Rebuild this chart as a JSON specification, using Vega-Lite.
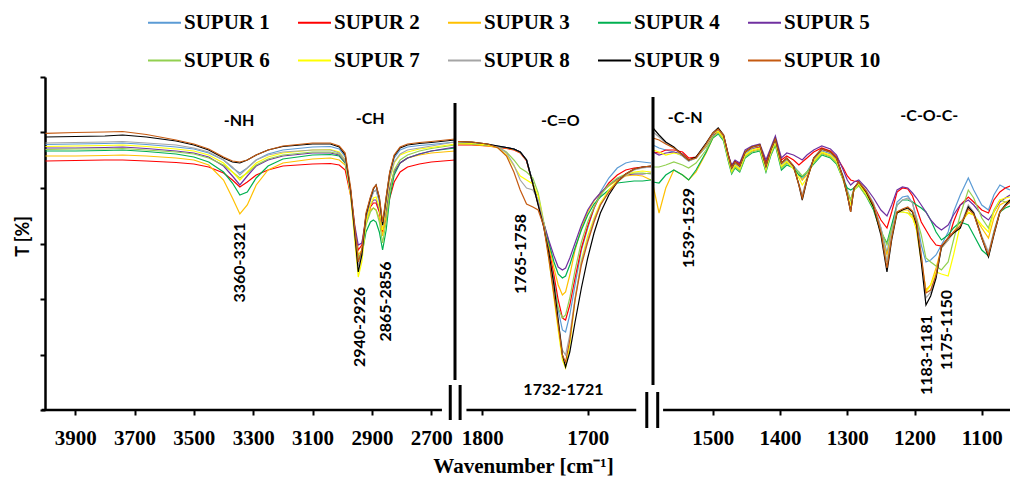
{
"$schema": "https://vega.github.io/schema/vega-lite/v6.json",
"width": 965, "height": 333,
"autosize": {"type": "none"},
"padding": {"left": 45, "top": 77, "right": 0, "bottom": 67},
"background": "white",
"config": {"view": {"stroke": null}},
"datasets": {
"spectra": [
{"w":4000,"p":1,"SUPUR 1":265.5,"SUPUR 2":249,"SUPUR 3":254,"SUPUR 4":259,"SUPUR 5":262,"SUPUR 6":260.5,"SUPUR 7":263.5,"SUPUR 8":267,"SUPUR 9":273,"SUPUR 10":276.7},
{"w":3900,"p":1,"SUPUR 1":266,"SUPUR 2":249.5,"SUPUR 3":254,"SUPUR 4":259,"SUPUR 5":262,"SUPUR 6":261,"SUPUR 7":264,"SUPUR 8":267.5,"SUPUR 9":273.5,"SUPUR 10":277.5},
{"w":3800,"p":1,"SUPUR 1":266.5,"SUPUR 2":250,"SUPUR 3":254.5,"SUPUR 4":259.5,"SUPUR 5":262.5,"SUPUR 6":261,"SUPUR 7":264.5,"SUPUR 8":268,"SUPUR 9":274,"SUPUR 10":278},
{"w":3740,"p":1,"SUPUR 1":267,"SUPUR 2":250,"SUPUR 3":255,"SUPUR 4":260,"SUPUR 5":263,"SUPUR 6":261.5,"SUPUR 7":265,"SUPUR 8":268.5,"SUPUR 9":275,"SUPUR 10":278.5},
{"w":3660,"p":1,"SUPUR 1":265.5,"SUPUR 2":249,"SUPUR 3":254,"SUPUR 4":258.5,"SUPUR 5":261.5,"SUPUR 6":260,"SUPUR 7":263.5,"SUPUR 8":267,"SUPUR 9":273,"SUPUR 10":275.5},
{"w":3560,"p":1,"SUPUR 1":263,"SUPUR 2":247.5,"SUPUR 3":252,"SUPUR 4":256,"SUPUR 5":259,"SUPUR 6":258,"SUPUR 7":261,"SUPUR 8":265,"SUPUR 9":269,"SUPUR 10":270},
{"w":3500,"p":1,"SUPUR 1":261,"SUPUR 2":246,"SUPUR 3":250,"SUPUR 4":253,"SUPUR 5":257,"SUPUR 6":256,"SUPUR 7":259,"SUPUR 8":262,"SUPUR 9":265,"SUPUR 10":266},
{"w":3450,"p":1,"SUPUR 1":257,"SUPUR 2":243,"SUPUR 3":245,"SUPUR 4":248,"SUPUR 5":253,"SUPUR 6":252,"SUPUR 7":255,"SUPUR 8":258,"SUPUR 9":260,"SUPUR 10":261},
{"w":3400,"p":1,"SUPUR 1":250,"SUPUR 2":237,"SUPUR 3":230,"SUPUR 4":238,"SUPUR 5":244,"SUPUR 6":245,"SUPUR 7":247,"SUPUR 8":250,"SUPUR 9":252,"SUPUR 10":253},
{"w":3370,"p":1,"SUPUR 1":242,"SUPUR 2":230,"SUPUR 3":212,"SUPUR 4":227,"SUPUR 5":234,"SUPUR 6":238,"SUPUR 7":238,"SUPUR 8":243,"SUPUR 9":248,"SUPUR 10":249},
{"w":3345,"p":1,"SUPUR 1":237,"SUPUR 2":223,"SUPUR 3":196,"SUPUR 4":215,"SUPUR 5":225,"SUPUR 6":232,"SUPUR 7":230,"SUPUR 8":235,"SUPUR 9":247,"SUPUR 10":248},
{"w":3320,"p":1,"SUPUR 1":242,"SUPUR 2":228,"SUPUR 3":205,"SUPUR 4":218,"SUPUR 5":234,"SUPUR 6":237,"SUPUR 7":238,"SUPUR 8":242,"SUPUR 9":250,"SUPUR 10":250},
{"w":3290,"p":1,"SUPUR 1":250,"SUPUR 2":235,"SUPUR 3":225,"SUPUR 4":232,"SUPUR 5":244,"SUPUR 6":245,"SUPUR 7":247,"SUPUR 8":250,"SUPUR 9":255,"SUPUR 10":255},
{"w":3250,"p":1,"SUPUR 1":256,"SUPUR 2":240,"SUPUR 3":240,"SUPUR 4":244,"SUPUR 5":250,"SUPUR 6":251,"SUPUR 7":253,"SUPUR 8":255,"SUPUR 9":260,"SUPUR 10":260},
{"w":3200,"p":1,"SUPUR 1":260,"SUPUR 2":244,"SUPUR 3":247,"SUPUR 4":251,"SUPUR 5":254,"SUPUR 6":255,"SUPUR 7":257,"SUPUR 8":258,"SUPUR 9":263.5,"SUPUR 10":264},
{"w":3100,"p":1,"SUPUR 1":263,"SUPUR 2":246,"SUPUR 3":251,"SUPUR 4":255,"SUPUR 5":257,"SUPUR 6":258,"SUPUR 7":260,"SUPUR 8":260,"SUPUR 9":266,"SUPUR 10":267},
{"w":3040,"p":1,"SUPUR 1":263.5,"SUPUR 2":246.5,"SUPUR 3":252,"SUPUR 4":255.5,"SUPUR 5":257,"SUPUR 6":258,"SUPUR 7":260.5,"SUPUR 8":260,"SUPUR 9":266,"SUPUR 10":267},
{"w":3010,"p":1,"SUPUR 1":261,"SUPUR 2":245,"SUPUR 3":250,"SUPUR 4":254,"SUPUR 5":255,"SUPUR 6":256,"SUPUR 7":258,"SUPUR 8":257,"SUPUR 9":263,"SUPUR 10":264},
{"w":2990,"p":1,"SUPUR 1":253,"SUPUR 2":240,"SUPUR 3":245,"SUPUR 4":247,"SUPUR 5":248,"SUPUR 6":249,"SUPUR 7":250,"SUPUR 8":250,"SUPUR 9":255,"SUPUR 10":257},
{"w":2972,"p":1,"SUPUR 1":220,"SUPUR 2":215,"SUPUR 3":218,"SUPUR 4":218,"SUPUR 5":220,"SUPUR 6":218,"SUPUR 7":215,"SUPUR 8":218,"SUPUR 9":220,"SUPUR 10":223},
{"w":2958,"p":1,"SUPUR 1":180,"SUPUR 2":182,"SUPUR 3":182,"SUPUR 4":180,"SUPUR 5":185,"SUPUR 6":178,"SUPUR 7":170,"SUPUR 8":177,"SUPUR 9":178,"SUPUR 10":183},
{"w":2946,"p":1,"SUPUR 1":148,"SUPUR 2":160,"SUPUR 3":155,"SUPUR 4":150,"SUPUR 5":165,"SUPUR 6":152,"SUPUR 7":133,"SUPUR 8":144,"SUPUR 9":138,"SUPUR 10":148},
{"w":2934,"p":1,"SUPUR 1":158,"SUPUR 2":165,"SUPUR 3":160,"SUPUR 4":155,"SUPUR 5":167,"SUPUR 6":158,"SUPUR 7":148,"SUPUR 8":155,"SUPUR 9":155,"SUPUR 10":160},
{"w":2920,"p":1,"SUPUR 1":195,"SUPUR 2":190,"SUPUR 3":188,"SUPUR 4":178,"SUPUR 5":192,"SUPUR 6":185,"SUPUR 7":188,"SUPUR 8":192,"SUPUR 9":195,"SUPUR 10":197},
{"w":2905,"p":1,"SUPUR 1":210,"SUPUR 2":203,"SUPUR 3":200,"SUPUR 4":188,"SUPUR 5":205,"SUPUR 6":198,"SUPUR 7":205,"SUPUR 8":210,"SUPUR 9":212,"SUPUR 10":213},
{"w":2895,"p":1,"SUPUR 1":218,"SUPUR 2":207,"SUPUR 3":202,"SUPUR 4":190,"SUPUR 5":210,"SUPUR 6":202,"SUPUR 7":212,"SUPUR 8":218,"SUPUR 9":221,"SUPUR 10":222},
{"w":2886,"p":1,"SUPUR 1":220,"SUPUR 2":207,"SUPUR 3":200,"SUPUR 4":188,"SUPUR 5":210,"SUPUR 6":200,"SUPUR 7":213,"SUPUR 8":220,"SUPUR 9":225,"SUPUR 10":225},
{"w":2875,"p":1,"SUPUR 1":208,"SUPUR 2":198,"SUPUR 3":192,"SUPUR 4":178,"SUPUR 5":200,"SUPUR 6":188,"SUPUR 7":202,"SUPUR 8":210,"SUPUR 9":212,"SUPUR 10":213},
{"w":2864,"p":1,"SUPUR 1":183,"SUPUR 2":178,"SUPUR 3":174,"SUPUR 4":160,"SUPUR 5":182,"SUPUR 6":167,"SUPUR 7":180,"SUPUR 8":184,"SUPUR 9":185,"SUPUR 10":188},
{"w":2852,"p":1,"SUPUR 1":210,"SUPUR 2":192,"SUPUR 3":195,"SUPUR 4":180,"SUPUR 5":200,"SUPUR 6":188,"SUPUR 7":205,"SUPUR 8":208,"SUPUR 9":212,"SUPUR 10":213},
{"w":2840,"p":1,"SUPUR 1":235,"SUPUR 2":212,"SUPUR 3":220,"SUPUR 4":212,"SUPUR 5":222,"SUPUR 6":218,"SUPUR 7":230,"SUPUR 8":232,"SUPUR 9":237,"SUPUR 10":238},
{"w":2825,"p":1,"SUPUR 1":252,"SUPUR 2":228,"SUPUR 3":238,"SUPUR 4":235,"SUPUR 5":238,"SUPUR 6":240,"SUPUR 7":247,"SUPUR 8":248,"SUPUR 9":254,"SUPUR 10":255},
{"w":2805,"p":1,"SUPUR 1":260,"SUPUR 2":238,"SUPUR 3":247,"SUPUR 4":247,"SUPUR 5":247,"SUPUR 6":250,"SUPUR 7":255,"SUPUR 8":256,"SUPUR 9":262,"SUPUR 10":263},
{"w":2780,"p":1,"SUPUR 1":263,"SUPUR 2":243,"SUPUR 3":252,"SUPUR 4":252,"SUPUR 5":252,"SUPUR 6":255,"SUPUR 7":258,"SUPUR 8":260,"SUPUR 9":265,"SUPUR 10":266},
{"w":2740,"p":1,"SUPUR 1":264.5,"SUPUR 2":246,"SUPUR 3":255,"SUPUR 4":256,"SUPUR 5":256,"SUPUR 6":259,"SUPUR 7":261,"SUPUR 8":262,"SUPUR 9":266.5,"SUPUR 10":267.5},
{"w":2700,"p":1,"SUPUR 1":265.5,"SUPUR 2":248,"SUPUR 3":257,"SUPUR 4":259,"SUPUR 5":259,"SUPUR 6":261.5,"SUPUR 7":262.5,"SUPUR 8":264,"SUPUR 9":267.5,"SUPUR 10":268.5},
{"w":2620,"p":1,"SUPUR 1":268,"SUPUR 2":250,"SUPUR 3":259,"SUPUR 4":262,"SUPUR 5":263,"SUPUR 6":265,"SUPUR 7":266,"SUPUR 8":268,"SUPUR 9":270,"SUPUR 10":271},
{"w":1823,"p":2,"SUPUR 1":267.5,"SUPUR 2":265,"SUPUR 3":266,"SUPUR 4":267,"SUPUR 5":267,"SUPUR 6":266.5,"SUPUR 7":267,"SUPUR 8":268,"SUPUR 9":268.5,"SUPUR 10":268.5},
{"w":1810,"p":2,"SUPUR 1":267,"SUPUR 2":265,"SUPUR 3":265.5,"SUPUR 4":266.5,"SUPUR 5":266.5,"SUPUR 6":266,"SUPUR 7":266.5,"SUPUR 8":267.5,"SUPUR 9":268,"SUPUR 10":268},
{"w":1795,"p":2,"SUPUR 1":265.5,"SUPUR 2":264,"SUPUR 3":264,"SUPUR 4":265,"SUPUR 5":265,"SUPUR 6":265,"SUPUR 7":265,"SUPUR 8":266,"SUPUR 9":266,"SUPUR 10":266},
{"w":1785,"p":2,"SUPUR 1":264,"SUPUR 2":262.5,"SUPUR 3":263,"SUPUR 4":263.5,"SUPUR 5":263.5,"SUPUR 6":263,"SUPUR 7":262,"SUPUR 8":263,"SUPUR 9":264,"SUPUR 10":262},
{"w":1777,"p":2,"SUPUR 1":262.5,"SUPUR 2":261.5,"SUPUR 3":262,"SUPUR 4":262.5,"SUPUR 5":262.5,"SUPUR 6":258,"SUPUR 7":255,"SUPUR 8":257,"SUPUR 9":262.5,"SUPUR 10":254},
{"w":1770,"p":2,"SUPUR 1":261,"SUPUR 2":260,"SUPUR 3":260.5,"SUPUR 4":261,"SUPUR 5":261,"SUPUR 6":250,"SUPUR 7":244,"SUPUR 8":245,"SUPUR 9":261,"SUPUR 10":238},
{"w":1764,"p":2,"SUPUR 1":258,"SUPUR 2":257,"SUPUR 3":257.5,"SUPUR 4":258,"SUPUR 5":258,"SUPUR 6":242,"SUPUR 7":234,"SUPUR 8":230,"SUPUR 9":258,"SUPUR 10":220},
{"w":1758,"p":2,"SUPUR 1":250,"SUPUR 2":249,"SUPUR 3":250,"SUPUR 4":250,"SUPUR 5":250,"SUPUR 6":238,"SUPUR 7":230,"SUPUR 8":222,"SUPUR 9":250,"SUPUR 10":206},
{"w":1752,"p":2,"SUPUR 1":226,"SUPUR 2":226,"SUPUR 3":226,"SUPUR 4":227,"SUPUR 5":227,"SUPUR 6":232,"SUPUR 7":226,"SUPUR 8":220,"SUPUR 9":226,"SUPUR 10":203},
{"w":1747,"p":2,"SUPUR 1":206,"SUPUR 2":206,"SUPUR 3":206,"SUPUR 4":207,"SUPUR 5":207,"SUPUR 6":217,"SUPUR 7":214,"SUPUR 8":210,"SUPUR 9":205,"SUPUR 10":200},
{"w":1742,"p":2,"SUPUR 1":186,"SUPUR 2":186,"SUPUR 3":187,"SUPUR 4":188,"SUPUR 5":188,"SUPUR 6":190,"SUPUR 7":188,"SUPUR 8":188,"SUPUR 9":184,"SUPUR 10":185},
{"w":1737,"p":2,"SUPUR 1":160,"SUPUR 2":162,"SUPUR 3":166,"SUPUR 4":168,"SUPUR 5":170,"SUPUR 6":158,"SUPUR 7":152,"SUPUR 8":155,"SUPUR 9":158,"SUPUR 10":152},
{"w":1732,"p":2,"SUPUR 1":130,"SUPUR 2":135,"SUPUR 3":142,"SUPUR 4":148,"SUPUR 5":154,"SUPUR 6":125,"SUPUR 7":112,"SUPUR 8":118,"SUPUR 9":125,"SUPUR 10":115},
{"w":1728,"p":2,"SUPUR 1":100,"SUPUR 2":110,"SUPUR 3":125,"SUPUR 4":136,"SUPUR 5":143,"SUPUR 6":102,"SUPUR 7":80,"SUPUR 8":88,"SUPUR 9":90,"SUPUR 10":85},
{"w":1724,"p":2,"SUPUR 1":80,"SUPUR 2":92,"SUPUR 3":115,"SUPUR 4":132,"SUPUR 5":140,"SUPUR 6":92,"SUPUR 7":50,"SUPUR 8":60,"SUPUR 9":55,"SUPUR 10":55},
{"w":1721,"p":2,"SUPUR 1":78,"SUPUR 2":90,"SUPUR 3":118,"SUPUR 4":134,"SUPUR 5":142,"SUPUR 6":95,"SUPUR 7":42,"SUPUR 8":55,"SUPUR 9":43,"SUPUR 10":48},
{"w":1717,"p":2,"SUPUR 1":95,"SUPUR 2":105,"SUPUR 3":135,"SUPUR 4":145,"SUPUR 5":152,"SUPUR 6":112,"SUPUR 7":65,"SUPUR 8":75,"SUPUR 9":58,"SUPUR 10":70},
{"w":1712,"p":2,"SUPUR 1":125,"SUPUR 2":132,"SUPUR 3":160,"SUPUR 4":162,"SUPUR 5":167,"SUPUR 6":140,"SUPUR 7":110,"SUPUR 8":112,"SUPUR 9":88,"SUPUR 10":110},
{"w":1706,"p":2,"SUPUR 1":160,"SUPUR 2":162,"SUPUR 3":182,"SUPUR 4":180,"SUPUR 5":185,"SUPUR 6":168,"SUPUR 7":150,"SUPUR 8":148,"SUPUR 9":122,"SUPUR 10":145},
{"w":1700,"p":2,"SUPUR 1":182,"SUPUR 2":184,"SUPUR 3":198,"SUPUR 4":195,"SUPUR 5":200,"SUPUR 6":188,"SUPUR 7":174,"SUPUR 8":170,"SUPUR 9":152,"SUPUR 10":168},
{"w":1694,"p":2,"SUPUR 1":202,"SUPUR 2":202,"SUPUR 3":209,"SUPUR 4":206,"SUPUR 5":210,"SUPUR 6":203,"SUPUR 7":192,"SUPUR 8":190,"SUPUR 9":177,"SUPUR 10":188},
{"w":1688,"p":2,"SUPUR 1":218,"SUPUR 2":215,"SUPUR 3":217,"SUPUR 4":213,"SUPUR 5":217,"SUPUR 6":215,"SUPUR 7":207,"SUPUR 8":205,"SUPUR 9":197,"SUPUR 10":205},
{"w":1680,"p":2,"SUPUR 1":232,"SUPUR 2":227,"SUPUR 3":224,"SUPUR 4":220,"SUPUR 5":225,"SUPUR 6":225,"SUPUR 7":220,"SUPUR 8":218,"SUPUR 9":215,"SUPUR 10":218},
{"w":1672,"p":2,"SUPUR 1":242,"SUPUR 2":235,"SUPUR 3":230,"SUPUR 4":227,"SUPUR 5":231,"SUPUR 6":232,"SUPUR 7":229,"SUPUR 8":228,"SUPUR 9":228,"SUPUR 10":228},
{"w":1664,"p":2,"SUPUR 1":247,"SUPUR 2":240,"SUPUR 3":234,"SUPUR 4":228,"SUPUR 5":235,"SUPUR 6":236,"SUPUR 7":235,"SUPUR 8":235,"SUPUR 9":236,"SUPUR 10":236},
{"w":1656,"p":2,"SUPUR 1":249,"SUPUR 2":242,"SUPUR 3":235,"SUPUR 4":229,"SUPUR 5":236,"SUPUR 6":237,"SUPUR 7":238,"SUPUR 8":240,"SUPUR 9":241,"SUPUR 10":241},
{"w":1648,"p":2,"SUPUR 1":248,"SUPUR 2":243,"SUPUR 3":234,"SUPUR 4":229,"SUPUR 5":236,"SUPUR 6":237,"SUPUR 7":239,"SUPUR 8":242,"SUPUR 9":243,"SUPUR 10":243},
{"w":1640,"p":2,"SUPUR 1":247,"SUPUR 2":243,"SUPUR 3":230,"SUPUR 4":230,"SUPUR 5":237,"SUPUR 6":236,"SUPUR 7":238,"SUPUR 8":243,"SUPUR 9":244,"SUPUR 10":244},
{"w":1589,"p":3,"SUPUR 1":265,"SUPUR 2":258,"SUPUR 3":225,"SUPUR 4":228,"SUPUR 5":258,"SUPUR 6":243,"SUPUR 7":260,"SUPUR 8":278,"SUPUR 9":282,"SUPUR 10":272},
{"w":1580,"p":3,"SUPUR 1":262,"SUPUR 2":257,"SUPUR 3":197,"SUPUR 4":227,"SUPUR 5":255,"SUPUR 6":243,"SUPUR 7":258,"SUPUR 8":273,"SUPUR 9":275,"SUPUR 10":270},
{"w":1570,"p":3,"SUPUR 1":260,"SUPUR 2":260,"SUPUR 3":222,"SUPUR 4":235,"SUPUR 5":257,"SUPUR 6":245,"SUPUR 7":255,"SUPUR 8":267,"SUPUR 9":268,"SUPUR 10":266},
{"w":1558,"p":3,"SUPUR 1":258,"SUPUR 2":260,"SUPUR 3":240,"SUPUR 4":240,"SUPUR 5":258,"SUPUR 6":248,"SUPUR 7":257,"SUPUR 8":262,"SUPUR 9":263,"SUPUR 10":262},
{"w":1545,"p":3,"SUPUR 1":254,"SUPUR 2":258,"SUPUR 3":235,"SUPUR 4":235,"SUPUR 5":256,"SUPUR 6":245,"SUPUR 7":255,"SUPUR 8":254,"SUPUR 9":255,"SUPUR 10":255},
{"w":1536,"p":3,"SUPUR 1":249,"SUPUR 2":252,"SUPUR 3":230,"SUPUR 4":230,"SUPUR 5":250,"SUPUR 6":242,"SUPUR 7":250,"SUPUR 8":249,"SUPUR 9":250,"SUPUR 10":250},
{"w":1525,"p":3,"SUPUR 1":252,"SUPUR 2":253,"SUPUR 3":238,"SUPUR 4":240,"SUPUR 5":252,"SUPUR 6":247,"SUPUR 7":252,"SUPUR 8":252,"SUPUR 9":253,"SUPUR 10":252},
{"w":1510,"p":3,"SUPUR 1":263,"SUPUR 2":264,"SUPUR 3":257,"SUPUR 4":258,"SUPUR 5":264,"SUPUR 6":260,"SUPUR 7":264,"SUPUR 8":265,"SUPUR 9":267,"SUPUR 10":266},
{"w":1500,"p":3,"SUPUR 1":274,"SUPUR 2":275,"SUPUR 3":272,"SUPUR 4":272,"SUPUR 5":275,"SUPUR 6":273,"SUPUR 7":276,"SUPUR 8":276,"SUPUR 9":277,"SUPUR 10":277},
{"w":1492,"p":3,"SUPUR 1":280,"SUPUR 2":279,"SUPUR 3":278,"SUPUR 4":276,"SUPUR 5":280,"SUPUR 6":277,"SUPUR 7":279,"SUPUR 8":281,"SUPUR 9":282,"SUPUR 10":281},
{"w":1484,"p":3,"SUPUR 1":273,"SUPUR 2":272,"SUPUR 3":271,"SUPUR 4":269,"SUPUR 5":274,"SUPUR 6":270,"SUPUR 7":272,"SUPUR 8":274,"SUPUR 9":275,"SUPUR 10":275},
{"w":1477,"p":3,"SUPUR 1":253,"SUPUR 2":254,"SUPUR 3":251,"SUPUR 4":249,"SUPUR 5":255,"SUPUR 6":250,"SUPUR 7":252,"SUPUR 8":254,"SUPUR 9":255,"SUPUR 10":255},
{"w":1472,"p":3,"SUPUR 1":240,"SUPUR 2":244,"SUPUR 3":238,"SUPUR 4":236,"SUPUR 5":245,"SUPUR 6":237,"SUPUR 7":239,"SUPUR 8":241,"SUPUR 9":242,"SUPUR 10":242},
{"w":1467,"p":3,"SUPUR 1":246,"SUPUR 2":249,"SUPUR 3":244,"SUPUR 4":242,"SUPUR 5":250,"SUPUR 6":243,"SUPUR 7":245,"SUPUR 8":247,"SUPUR 9":248,"SUPUR 10":248},
{"w":1460,"p":3,"SUPUR 1":242,"SUPUR 2":246,"SUPUR 3":240,"SUPUR 4":238,"SUPUR 5":247,"SUPUR 6":239,"SUPUR 7":241,"SUPUR 8":243,"SUPUR 9":244,"SUPUR 10":244},
{"w":1452,"p":3,"SUPUR 1":256,"SUPUR 2":258,"SUPUR 3":254,"SUPUR 4":252,"SUPUR 5":260,"SUPUR 6":253,"SUPUR 7":255,"SUPUR 8":257,"SUPUR 9":258,"SUPUR 10":258},
{"w":1442,"p":3,"SUPUR 1":261,"SUPUR 2":262,"SUPUR 3":259,"SUPUR 4":257,"SUPUR 5":264,"SUPUR 6":258,"SUPUR 7":260,"SUPUR 8":262,"SUPUR 9":263,"SUPUR 10":263},
{"w":1430,"p":3,"SUPUR 1":263,"SUPUR 2":263,"SUPUR 3":261,"SUPUR 4":259,"SUPUR 5":266,"SUPUR 6":260,"SUPUR 7":262,"SUPUR 8":264,"SUPUR 9":265,"SUPUR 10":265},
{"w":1421,"p":3,"SUPUR 1":242,"SUPUR 2":248,"SUPUR 3":240,"SUPUR 4":238,"SUPUR 5":250,"SUPUR 6":239,"SUPUR 7":241,"SUPUR 8":243,"SUPUR 9":244,"SUPUR 10":244},
{"w":1414,"p":3,"SUPUR 1":258,"SUPUR 2":260,"SUPUR 3":256,"SUPUR 4":254,"SUPUR 5":262,"SUPUR 6":255,"SUPUR 7":257,"SUPUR 8":259,"SUPUR 9":260,"SUPUR 10":260},
{"w":1407,"p":3,"SUPUR 1":269,"SUPUR 2":270,"SUPUR 3":267,"SUPUR 4":265,"SUPUR 5":274,"SUPUR 6":266,"SUPUR 7":268,"SUPUR 8":270,"SUPUR 9":271,"SUPUR 10":271},
{"w":1398,"p":3,"SUPUR 1":245,"SUPUR 2":250,"SUPUR 3":243,"SUPUR 4":240,"SUPUR 5":252,"SUPUR 6":242,"SUPUR 7":244,"SUPUR 8":246,"SUPUR 9":247,"SUPUR 10":247},
{"w":1390,"p":3,"SUPUR 1":250,"SUPUR 2":254,"SUPUR 3":248,"SUPUR 4":245,"SUPUR 5":257,"SUPUR 6":247,"SUPUR 7":249,"SUPUR 8":251,"SUPUR 9":252,"SUPUR 10":252},
{"w":1380,"p":3,"SUPUR 1":244,"SUPUR 2":250,"SUPUR 3":242,"SUPUR 4":242,"SUPUR 5":255,"SUPUR 6":242,"SUPUR 7":241,"SUPUR 8":243,"SUPUR 9":244,"SUPUR 10":244},
{"w":1372,"p":3,"SUPUR 1":238,"SUPUR 2":245,"SUPUR 3":235,"SUPUR 4":235,"SUPUR 5":252,"SUPUR 6":238,"SUPUR 7":232,"SUPUR 8":226,"SUPUR 9":225,"SUPUR 10":225},
{"w":1367,"p":3,"SUPUR 1":230,"SUPUR 2":248,"SUPUR 3":230,"SUPUR 4":233,"SUPUR 5":250,"SUPUR 6":234,"SUPUR 7":225,"SUPUR 8":215,"SUPUR 9":210,"SUPUR 10":212},
{"w":1360,"p":3,"SUPUR 1":238,"SUPUR 2":252,"SUPUR 3":235,"SUPUR 4":238,"SUPUR 5":255,"SUPUR 6":238,"SUPUR 7":232,"SUPUR 8":232,"SUPUR 9":230,"SUPUR 10":230},
{"w":1350,"p":3,"SUPUR 1":250,"SUPUR 2":258,"SUPUR 3":248,"SUPUR 4":246,"SUPUR 5":260,"SUPUR 6":247,"SUPUR 7":249,"SUPUR 8":251,"SUPUR 9":252,"SUPUR 10":252},
{"w":1338,"p":3,"SUPUR 1":259,"SUPUR 2":262,"SUPUR 3":257,"SUPUR 4":255,"SUPUR 5":264,"SUPUR 6":256,"SUPUR 7":258,"SUPUR 8":260,"SUPUR 9":261,"SUPUR 10":261},
{"w":1325,"p":3,"SUPUR 1":256,"SUPUR 2":259,"SUPUR 3":254,"SUPUR 4":252,"SUPUR 5":261,"SUPUR 6":253,"SUPUR 7":255,"SUPUR 8":257,"SUPUR 9":258,"SUPUR 10":258},
{"w":1316,"p":3,"SUPUR 1":250,"SUPUR 2":253,"SUPUR 3":248,"SUPUR 4":246,"SUPUR 5":255,"SUPUR 6":247,"SUPUR 7":249,"SUPUR 8":251,"SUPUR 9":252,"SUPUR 10":252},
{"w":1306,"p":3,"SUPUR 1":234,"SUPUR 2":242,"SUPUR 3":232,"SUPUR 4":230,"SUPUR 5":240,"SUPUR 6":230,"SUPUR 7":230,"SUPUR 8":231,"SUPUR 9":232,"SUPUR 10":232},
{"w":1300,"p":3,"SUPUR 1":220,"SUPUR 2":234,"SUPUR 3":218,"SUPUR 4":222,"SUPUR 5":230,"SUPUR 6":217,"SUPUR 7":215,"SUPUR 8":214,"SUPUR 9":215,"SUPUR 10":215},
{"w":1295,"p":3,"SUPUR 1":210,"SUPUR 2":230,"SUPUR 3":210,"SUPUR 4":220,"SUPUR 5":225,"SUPUR 6":210,"SUPUR 7":205,"SUPUR 8":200,"SUPUR 9":198,"SUPUR 10":198},
{"w":1290,"p":3,"SUPUR 1":222,"SUPUR 2":229,"SUPUR 3":221,"SUPUR 4":222,"SUPUR 5":228,"SUPUR 6":220,"SUPUR 7":220,"SUPUR 8":221,"SUPUR 9":222,"SUPUR 10":222},
{"w":1283,"p":3,"SUPUR 1":227,"SUPUR 2":228,"SUPUR 3":226,"SUPUR 4":225,"SUPUR 5":230,"SUPUR 6":224,"SUPUR 7":226,"SUPUR 8":228,"SUPUR 9":228,"SUPUR 10":228},
{"w":1272,"p":3,"SUPUR 1":218,"SUPUR 2":218,"SUPUR 3":217,"SUPUR 4":214,"SUPUR 5":222,"SUPUR 6":214,"SUPUR 7":216,"SUPUR 8":220,"SUPUR 9":218,"SUPUR 10":219},
{"w":1261,"p":3,"SUPUR 1":205,"SUPUR 2":205,"SUPUR 3":204,"SUPUR 4":200,"SUPUR 5":212,"SUPUR 6":202,"SUPUR 7":203,"SUPUR 8":207,"SUPUR 9":203,"SUPUR 10":205},
{"w":1250,"p":3,"SUPUR 1":182,"SUPUR 2":190,"SUPUR 3":178,"SUPUR 4":178,"SUPUR 5":200,"SUPUR 6":180,"SUPUR 7":177,"SUPUR 8":182,"SUPUR 9":175,"SUPUR 10":178},
{"w":1241,"p":3,"SUPUR 1":157,"SUPUR 2":182,"SUPUR 3":155,"SUPUR 4":167,"SUPUR 5":194,"SUPUR 6":165,"SUPUR 7":148,"SUPUR 8":148,"SUPUR 9":138,"SUPUR 10":142},
{"w":1234,"p":3,"SUPUR 1":182,"SUPUR 2":198,"SUPUR 3":178,"SUPUR 4":185,"SUPUR 5":205,"SUPUR 6":182,"SUPUR 7":175,"SUPUR 8":177,"SUPUR 9":170,"SUPUR 10":172},
{"w":1226,"p":3,"SUPUR 1":208,"SUPUR 2":218,"SUPUR 3":198,"SUPUR 4":205,"SUPUR 5":220,"SUPUR 6":198,"SUPUR 7":198,"SUPUR 8":205,"SUPUR 9":197,"SUPUR 10":198},
{"w":1218,"p":3,"SUPUR 1":213,"SUPUR 2":222,"SUPUR 3":200,"SUPUR 4":210,"SUPUR 5":223,"SUPUR 6":198,"SUPUR 7":198,"SUPUR 8":210,"SUPUR 9":200,"SUPUR 10":201},
{"w":1210,"p":3,"SUPUR 1":214,"SUPUR 2":221,"SUPUR 3":200,"SUPUR 4":210,"SUPUR 5":222,"SUPUR 6":197,"SUPUR 7":197,"SUPUR 8":212,"SUPUR 9":202,"SUPUR 10":203},
{"w":1203,"p":3,"SUPUR 1":207,"SUPUR 2":214,"SUPUR 3":194,"SUPUR 4":208,"SUPUR 5":217,"SUPUR 6":195,"SUPUR 7":192,"SUPUR 8":207,"SUPUR 9":198,"SUPUR 10":199},
{"w":1197,"p":3,"SUPUR 1":192,"SUPUR 2":202,"SUPUR 3":180,"SUPUR 4":205,"SUPUR 5":212,"SUPUR 6":192,"SUPUR 7":182,"SUPUR 8":190,"SUPUR 9":185,"SUPUR 10":188},
{"w":1190,"p":3,"SUPUR 1":165,"SUPUR 2":188,"SUPUR 3":148,"SUPUR 4":202,"SUPUR 5":205,"SUPUR 6":175,"SUPUR 7":152,"SUPUR 8":155,"SUPUR 9":148,"SUPUR 10":155},
{"w":1183,"p":3,"SUPUR 1":148,"SUPUR 2":180,"SUPUR 3":120,"SUPUR 4":198,"SUPUR 5":198,"SUPUR 6":152,"SUPUR 7":118,"SUPUR 8":112,"SUPUR 9":105,"SUPUR 10":117},
{"w":1176,"p":3,"SUPUR 1":150,"SUPUR 2":172,"SUPUR 3":125,"SUPUR 4":190,"SUPUR 5":190,"SUPUR 6":148,"SUPUR 7":125,"SUPUR 8":118,"SUPUR 9":114,"SUPUR 10":120},
{"w":1168,"p":3,"SUPUR 1":155,"SUPUR 2":165,"SUPUR 3":142,"SUPUR 4":178,"SUPUR 5":184,"SUPUR 6":144,"SUPUR 7":138,"SUPUR 8":134,"SUPUR 9":132,"SUPUR 10":135},
{"w":1160,"p":3,"SUPUR 1":165,"SUPUR 2":164,"SUPUR 3":162,"SUPUR 4":170,"SUPUR 5":180,"SUPUR 6":140,"SUPUR 7":136,"SUPUR 8":162,"SUPUR 9":163,"SUPUR 10":164},
{"w":1150,"p":3,"SUPUR 1":178,"SUPUR 2":170,"SUPUR 3":170,"SUPUR 4":175,"SUPUR 5":185,"SUPUR 6":148,"SUPUR 7":134,"SUPUR 8":170,"SUPUR 9":172,"SUPUR 10":172},
{"w":1142,"p":3,"SUPUR 1":198,"SUPUR 2":188,"SUPUR 3":178,"SUPUR 4":182,"SUPUR 5":195,"SUPUR 6":170,"SUPUR 7":155,"SUPUR 8":177,"SUPUR 9":177,"SUPUR 10":178},
{"w":1132,"p":3,"SUPUR 1":215,"SUPUR 2":205,"SUPUR 3":188,"SUPUR 4":188,"SUPUR 5":205,"SUPUR 6":195,"SUPUR 7":185,"SUPUR 8":184,"SUPUR 9":182,"SUPUR 10":184},
{"w":1120,"p":3,"SUPUR 1":232,"SUPUR 2":213,"SUPUR 3":197,"SUPUR 4":185,"SUPUR 5":210,"SUPUR 6":220,"SUPUR 7":198,"SUPUR 8":205,"SUPUR 9":203,"SUPUR 10":201},
{"w":1112,"p":3,"SUPUR 1":220,"SUPUR 2":208,"SUPUR 3":195,"SUPUR 4":175,"SUPUR 5":205,"SUPUR 6":212,"SUPUR 7":195,"SUPUR 8":198,"SUPUR 9":197,"SUPUR 10":196},
{"w":1100,"p":3,"SUPUR 1":205,"SUPUR 2":200,"SUPUR 3":182,"SUPUR 4":160,"SUPUR 5":195,"SUPUR 6":192,"SUPUR 7":185,"SUPUR 8":174,"SUPUR 9":172,"SUPUR 10":172},
{"w":1090,"p":3,"SUPUR 1":200,"SUPUR 2":197,"SUPUR 3":172,"SUPUR 4":154,"SUPUR 5":190,"SUPUR 6":182,"SUPUR 7":178,"SUPUR 8":158,"SUPUR 9":153,"SUPUR 10":155},
{"w":1082,"p":3,"SUPUR 1":215,"SUPUR 2":210,"SUPUR 3":192,"SUPUR 4":178,"SUPUR 5":198,"SUPUR 6":200,"SUPUR 7":198,"SUPUR 8":178,"SUPUR 9":175,"SUPUR 10":176},
{"w":1073,"p":3,"SUPUR 1":225,"SUPUR 2":218,"SUPUR 3":205,"SUPUR 4":198,"SUPUR 5":208,"SUPUR 6":210,"SUPUR 7":210,"SUPUR 8":199,"SUPUR 9":198,"SUPUR 10":198},
{"w":1065,"p":3,"SUPUR 1":222,"SUPUR 2":222,"SUPUR 3":208,"SUPUR 4":202,"SUPUR 5":212,"SUPUR 6":208,"SUPUR 7":212,"SUPUR 8":204,"SUPUR 9":205,"SUPUR 10":204},
{"w":1058,"p":3,"SUPUR 1":220,"SUPUR 2":224,"SUPUR 3":210,"SUPUR 4":204,"SUPUR 5":215,"SUPUR 6":207,"SUPUR 7":213,"SUPUR 8":209,"SUPUR 9":210,"SUPUR 10":208}
],
"axisline": [
{"w":4013,"b":2664,"T":0},
{"w":1815,"b":1654,"T":0},
{"w":1574,"b":1040,"T":0}
],
"breaks": [
{"w":2620,"T":30,"hi":307},
{"w":1589,"T":25,"hi":313},
{"w":2636,"T":-10,"hi":25},
{"w":1821,"T":-10,"hi":25},
{"w":1644,"T":-18,"hi":18},
{"w":1582,"T":-18,"hi":18}
],
"hlabels": [
{"w":3348,"T":289,"t":"-NH"},
{"w":2906,"T":291,"t":"-CH"},
{"w":1726,"T":289,"t":"-C=O"},
{"w":1541,"T":292.5,"t":"-C-N"},
{"w":1178,"T":294,"t":"-C-O-C-"},
{"w":1723,"T":20,"t":"1732-1721"}
],
"vlabels": [
{"w":3345,"T":147.5,"t":"3360-3321"},
{"w":2940,"T":83,"t":"2940-2926"},
{"w":2851,"T":108.5,"t":"2865-2856"},
{"w":1763,"T":156,"t":"1765-1758"},
{"w":1535.5,"T":182,"t":"1539-1529"},
{"w":1182,"T":55,"t":"1183-1181"},
{"w":1151,"T":80,"t":"1175-1150"}
]
},
"encoding": {
"x": {"field": "w", "type": "quantitative",
"scale": {"type": "linear", "domain": [4000,2620,1823,1640,1589,1058], "range": [0.5,410,413,606,608,965], "nice": false, "zero": false},
"axis": {"values": [3900,3700,3500,3300,3100,2900,2700,1800,1700,1500,1400,1300,1200,1100], "format": "d", "domain": false, "grid": false, "ticks": true, "tickSize": 5, "tickWidth": 2, "tickColor": "black", "labelFont": "Liberation Serif", "labelFontWeight": "bold", "labelFontSize": 21, "labelColor": "black", "labelBaseline": "alphabetic", "labelPadding": 29, "labelFlush": false, "labelOverlap": false, "title": "Wavenumber [cm⁻¹]", "titleFont": "Liberation Serif", "titleFontWeight": "bold", "titleFontSize": 21, "titleColor": "black", "titleX": 478, "titleY": 62, "titleBaseline": "alphabetic", "titleAlign": "center"}},
"y": {"field": "T", "type": "quantitative",
"scale": {"domain": [0,333], "nice": false, "zero": false},
"axis": {"values": [0,55.5,111,166.5,222,277.5,333], "labels": false, "domain": true, "domainColor": "black", "domainWidth": 2.5, "grid": false, "ticks": true, "tickSize": 5, "tickWidth": 2, "tickColor": "black", "title": "T [%]", "titleFont": "Lato", "titleFontWeight": "bold", "titleFontSize": 18, "titleColor": "black", "titleX": -22, "titleY": 159, "titleAngle": 270, "titleAlign": "center", "titleBaseline": "middle"}}
},
"layer": [
{
"data": {"name": "spectra"},
"transform": [{"fold": ["SUPUR 1","SUPUR 2","SUPUR 3","SUPUR 4","SUPUR 5","SUPUR 6","SUPUR 7","SUPUR 8","SUPUR 9","SUPUR 10"], "as": ["series","T"]}],
"mark": {"type": "line", "strokeWidth": 1.2},
"encoding": {
"color": {"field": "series", "type": "nominal",
"scale": {"domain": ["SUPUR 1","SUPUR 2","SUPUR 3","SUPUR 4","SUPUR 5","SUPUR 6","SUPUR 7","SUPUR 8","SUPUR 9","SUPUR 10"], "range": ["#5B9BD5","#FF0000","#FFC000","#00B050","#7030A0","#92D050","#FFFF00","#A5A5A5","#000000","#C55A11"]},
"legend": {"orient": "none", "legendX": 102, "legendY": -72, "direction": "horizontal", "columns": 5, "title": null, "symbolType": "stroke", "symbolSize": 1089, "symbolStrokeWidth": 2, "labelFont": "Liberation Serif", "labelFontWeight": "bold", "labelFontSize": 21, "labelColor": "black", "labelOffset": 2, "columnPadding": 24, "rowPadding": 10, "padding": 0, "labelLimit": 0}},
"detail": {"field": "p", "type": "nominal"}
}
},
{
"data": {"name": "axisline"},
"mark": {"type": "rule", "strokeWidth": 2.5, "color": "black"},
"encoding": {"x2": {"field": "b"}}
},
{
"data": {"name": "breaks"},
"mark": {"type": "rule", "strokeWidth": 3, "color": "black"},
"encoding": {"y2": {"field": "hi"}}
},
{
"data": {"name": "hlabels"},
"mark": {"type": "text", "font": "Lato", "fontWeight": "bold", "fontSize": 16, "color": "black", "align": "center", "baseline": "middle"},
"encoding": {"text": {"field": "t"}}
},
{
"data": {"name": "vlabels"},
"mark": {"type": "text", "font": "Lato", "fontWeight": "bold", "fontSize": 16, "color": "black", "align": "center", "baseline": "middle", "angle": 270},
"encoding": {"text": {"field": "t"}}
}
]
}
